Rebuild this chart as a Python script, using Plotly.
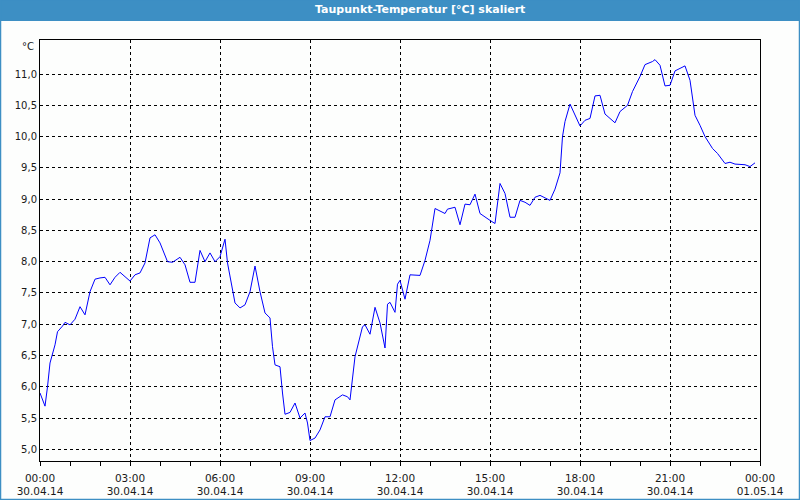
import plotly.graph_objects as go

minutes = [0, 10, 15, 20, 30, 35, 45, 50, 60, 70, 80, 90, 100, 110, 120, 130, 140, 150, 160, 180,
           190, 200, 210, 220, 230, 240, 255, 265, 280, 290, 300, 310, 320, 330, 340, 350, 360, 370,
           375, 385, 390, 400, 410, 420, 430, 440, 450, 460, 465, 470, 480, 485, 490, 500, 510, 520,
           530, 535, 540, 550, 560, 570, 580, 590, 605, 615, 620, 630, 645, 650, 660, 670, 680, 690,
           695, 700, 710, 715, 720, 730, 740, 760, 770, 780, 790, 810, 815, 830, 840, 850, 860, 870,
           880, 900, 910, 920, 930, 940, 950, 960, 970, 980, 990, 1000, 1015, 1020, 1030, 1040, 1045,
           1050, 1060, 1070, 1080, 1090, 1100, 1110, 1120, 1130, 1140, 1150, 1160, 1175, 1185, 1200,
           1210, 1225, 1230, 1240, 1250, 1260, 1270, 1280, 1290, 1300, 1310, 1320, 1330, 1345, 1355,
           1370, 1380, 1390, 1400, 1410, 1420, 1430]
values = [5.90, 5.69, 6.00, 6.38, 6.67, 6.88, 6.97, 7.03, 6.99, 7.08, 7.28, 7.15, 7.52, 7.72, 7.74,
          7.75, 7.63, 7.75, 7.83, 7.69, 7.79, 7.82, 7.98, 8.38, 8.43, 8.30, 8.00, 7.99, 8.07, 7.95,
          7.67, 7.67, 8.18, 8.00, 8.14, 8.00, 8.08, 8.36, 7.98, 7.52, 7.34, 7.26, 7.31, 7.52, 7.93,
          7.52, 7.18, 7.10, 6.64, 6.35, 6.32, 5.90, 5.56, 5.59, 5.74, 5.50, 5.58, 5.42, 5.14, 5.18,
          5.31, 5.52, 5.52, 5.79, 5.87, 5.84, 5.79, 6.48, 6.96, 6.99, 6.84, 7.27, 7.02, 6.62, 7.32,
          7.35, 7.19, 7.64, 7.70, 7.40, 7.79, 7.78, 8.02, 8.34, 8.85, 8.77, 8.84, 8.87, 8.59, 8.92,
          8.91, 9.08, 8.77, 8.66, 8.61, 9.25, 9.09, 8.71, 8.71, 8.98, 8.95, 8.90, 9.03, 9.06, 9.00,
          8.98, 9.16, 9.42, 10.00, 10.24, 10.52, 10.34, 10.17, 10.26, 10.29, 10.65, 10.66, 10.36,
          10.29, 10.22, 10.40, 10.50, 10.72, 10.96, 11.15, 11.20, 11.23, 11.14, 10.81, 10.82, 11.05,
          11.09, 11.13, 10.90, 10.34, 10.18, 10.00, 9.81, 9.73, 9.57, 9.59, 9.56, 9.55, 9.55, 9.52,
          9.58]

y_ticks = [5.0, 5.5, 6.0, 6.5, 7.0, 7.5, 8.0, 8.5, 9.0, 9.5, 10.0, 10.5, 11.0]

times = ["2014-04-30 %02d:%02d:00" % (m // 60, m % 60) for m in minutes]

title_text = "Taupunkt-Temperatur [°C] skaliert"
unit_text = "°C"

FONT = "DejaVu Sans"
BAR = "#3d8fc4"
PH = 421.0  # plot height in px
PW = 720.0

fig = go.Figure()
fig.add_trace(go.Scatter(x=times, y=values, mode="lines",
                         line=dict(color="#0000ff", width=1), hoverinfo="skip"))

fig.update_layout(
    width=800, height=500,
    margin=dict(l=40, r=40, t=40, b=39, autoexpand=False),
    paper_bgcolor="#fdfefd", plot_bgcolor="#fdfefd",
    showlegend=False,
    separators=",.",
    font=dict(family=FONT, size=10, color="#1a1a1a"),
    xaxis=dict(
        type="date",
        range=["2014-04-30 00:00", "2014-05-01 00:00"],
        dtick=3 * 3600000,
        tick0="2014-04-30 00:00",
        tickformat="%H:%M<br>%d.%m.%y",
        ticks="outside", ticklen=4, tickcolor="black", tickwidth=1,
        ticklabelstandoff=3,
        minor=dict(dtick=3600000, ticks="outside", ticklen=4, tickcolor="black", showgrid=False),
        showgrid=True, gridcolor="black", gridwidth=1, griddash="3px,3px",
        showline=True, linecolor="black", linewidth=1, mirror=True,
        zeroline=False, fixedrange=True, automargin=False,
        tickfont=dict(family=FONT, size=10.5, color="#1a1a1a"),
    ),
    yaxis=dict(
        range=[4.813, 11.544],
        tickmode="array", tickvals=y_ticks,
        tickformat=".1f",
        ticks="", showgrid=True, gridcolor="black", gridwidth=1, griddash="3px,3px",
        showline=True, linecolor="black", linewidth=1, mirror=True,
        zeroline=False, fixedrange=True, automargin=False,
        tickfont=dict(family=FONT, size=10, color="#1a1a1a"),
    ),
    shapes=[
        dict(type="rect", xref="paper", yref="paper", x0=-0.06, x1=1.06, y0=1.0 + 19.0 / PH,
             y1=1.0 + 41.0 / PH, fillcolor=BAR, line=dict(width=0), layer="below"),
        dict(type="rect", xref="paper", yref="paper", x0=-39.5 / PW, x1=1 + 39.5 / PW,
             y0=-38.5 / PH, y1=1.0 + 40.0 / PH, fillcolor="rgba(0,0,0,0)",
             line=dict(color=BAR, width=1.5), layer="below"),
    ],
    annotations=[
        dict(text="<b>" + title_text + "</b>", xref="paper", yref="paper",
             x=380.0 / PW, y=1.0 + 30.0 / PH, xanchor="center", yanchor="middle",
             showarrow=False, font=dict(family=FONT, size=11, color="white")),
        dict(text=unit_text, xref="paper", yref="paper", x=-4.0 / PW, y=1.0 - 6.0 / PH,
             xanchor="right", yanchor="middle", showarrow=False,
             font=dict(family=FONT, size=10, color="#1a1a1a")),
    ],
)

fig.write_html("out.html")
